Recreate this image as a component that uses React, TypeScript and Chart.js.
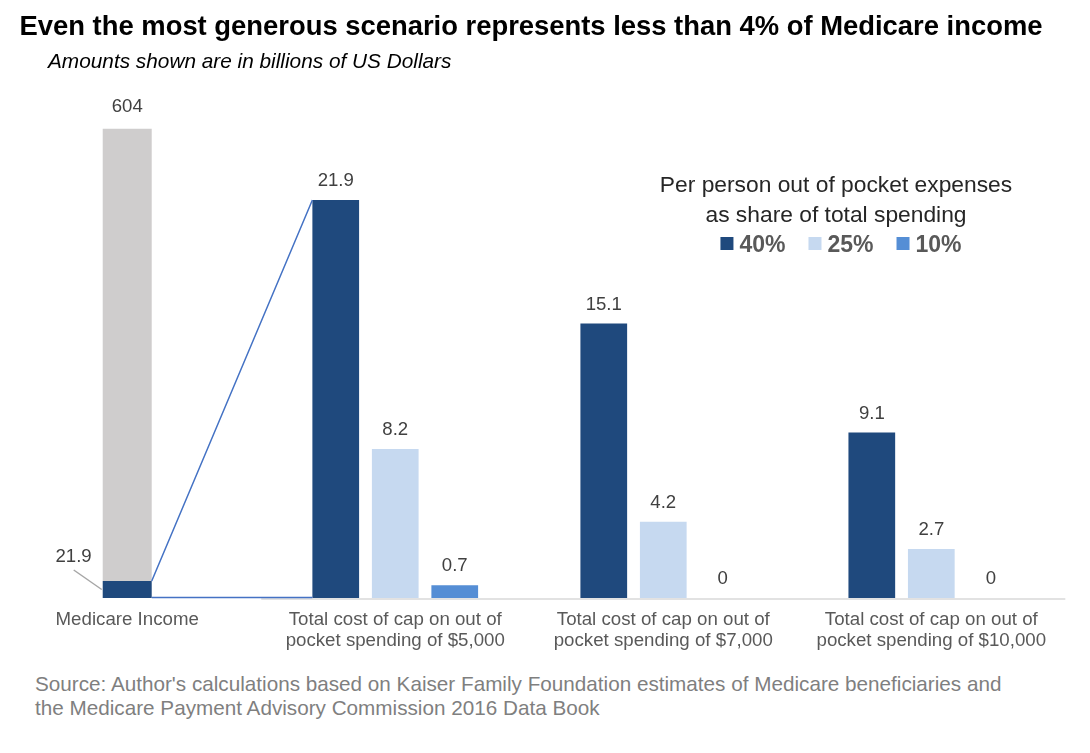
import React, { useEffect, useRef } from "react";
import { Chart, registerables } from "chart.js";

Chart.register(...registerables);

const FONT = '"Liberation Sans", Arial, Helvetica, sans-serif';

// ---- data ----
const categoryLabels: string[][] = [
  ["Medicare Income"],
  ["Total cost of cap on out of", "pocket spending of $5,000"],
  ["Total cost of cap on out of", "pocket spending of $7,000"],
  ["Total cost of cap on out of", "pocket spending of $10,000"],
];
const categoryPositions = [0, 1, 2, 3];

const medicareIncome: (number | null)[] = [604, null, null, null];
const medicareCapShare: (number | null)[] = [21.9, null, null, null];

const seriesNames = ["40%", "25%", "10%"];
const series40: (number | null)[] = [null, 21.9, 15.1, 9.1];
const series25: (number | null)[] = [null, 8.2, 4.2, 2.7];
const series10: (number | null)[] = [null, 0.7, 0, 0];

const legendTitle = ["Per person out of pocket expenses", "as share of total spending"];

// ---- styles / scale ranges ----
const seriesColors = ["#1f497d", "#c6d9f0", "#558ed5"];
const incomeColor = "#cfcdcd";
const connectorColor = "#4472c4";
const leftAxisMax = 641;
const rightAxisMax = 27.4;
const xMin = -0.4;
const xMax = 3.51;

const toPoints = (vals: (number | null)[]) =>
  categoryPositions.map((x, i) => ({ x, y: vals[i] }));

const incomeRest = medicareIncome.map((v, i) =>
  v == null ? null : Math.round((v - (medicareCapShare[i] ?? 0)) * 10) / 10
);

const axisLinePlugin = {
  id: "axisLine",
  beforeDatasetsDraw(chart: any) {
    const { ctx, chartArea } = chart;
    const xs = chart.scales.x;
    const start = xs.getPixelForValue((categoryPositions[0] + categoryPositions[1]) / 2);
    const end = xs.getPixelForValue(categoryPositions[categoryPositions.length - 1] + 0.5);
    ctx.save();
    ctx.strokeStyle = "#d9d9d9";
    ctx.lineWidth = 1.5;
    ctx.beginPath();
    ctx.moveTo(start, chartArea.bottom + 1);
    ctx.lineTo(end, chartArea.bottom + 1);
    ctx.stroke();
    ctx.restore();
  },
};

const decorationsPlugin = {
  id: "decorations",
  afterDatasetsDraw(chart: any) {
    const { ctx } = chart;
    ctx.save();
    const cap = chart.getDatasetMeta(0).data[0] as any;
    const rest = chart.getDatasetMeta(1).data[0] as any;
    const big = chart.getDatasetMeta(2).data[1] as any;

    // connector lines
    ctx.strokeStyle = connectorColor;
    ctx.lineWidth = 1.5;
    const capRight = cap.x + cap.width / 2;
    const bigLeft = big.x - big.width / 2;
    ctx.beginPath();
    ctx.moveTo(capRight, cap.y);
    ctx.lineTo(bigLeft, big.y);
    ctx.moveTo(capRight, cap.base - 0.5);
    ctx.lineTo(bigLeft, big.base - 0.5);
    ctx.stroke();

    // value labels
    ctx.font = `18.6px ${FONT}`;
    ctx.fillStyle = "#404040";
    ctx.textAlign = "center";
    ctx.textBaseline = "alphabetic";
    ctx.fillText(String(medicareIncome[0]), rest.x, rest.y - 17);

    // cap share label with leader line
    const capLeft = cap.x - cap.width / 2;
    const mid = (cap.y + cap.base) / 2;
    ctx.strokeStyle = "#a6a6a6";
    ctx.lineWidth = 1.5;
    ctx.beginPath();
    ctx.moveTo(capLeft - 29, mid - 19.5);
    ctx.lineTo(capLeft - 1, mid);
    ctx.stroke();
    ctx.textAlign = "right";
    ctx.fillText(String(medicareCapShare[0]), capLeft - 11, mid - 27.5);

    ctx.textAlign = "center";
    [2, 3, 4].forEach((di) => {
      const meta = chart.getDatasetMeta(di);
      const ds = chart.data.datasets[di];
      meta.data.forEach((el: any, i: number) => {
        const v = (ds.data[i] as any).y;
        if (v == null) return;
        ctx.fillText(String(v), el.x, el.y - 14);
      });
    });
    ctx.restore();
  },
};

const legendPlugin = {
  id: "customLegend",
  afterDraw(chart: any) {
    const { ctx } = chart;
    const titleCx = 828;
    const itemsCx = 833;
    ctx.save();
    ctx.fillStyle = "#262626";
    ctx.font = `22.8px ${FONT}`;
    ctx.textAlign = "center";
    ctx.textBaseline = "alphabetic";
    legendTitle.forEach((line, i) => ctx.fillText(line, titleCx, 183.5 + i * 30));

    ctx.font = `bold 23px ${FONT}`;
    const items = chart.data.datasets.slice(2).map((ds: any) => ({
      text: ds.label,
      color: ds.backgroundColor,
    }));
    const box = 13;
    const gap = 6;
    const spacing = 23;
    const widths = items.map((it: any) => ctx.measureText(it.text).width);
    const total =
      widths.reduce((a: number, w: number) => a + box + gap + w, 0) + spacing * (items.length - 1);
    let x = itemsCx - total / 2;
    const baseline = 243.5;
    ctx.textAlign = "left";
    items.forEach((it: any, i: number) => {
      ctx.fillStyle = it.color;
      ctx.fillRect(x, baseline - 14.5, box, box);
      ctx.fillStyle = "#595959";
      ctx.fillText(it.text, x + box + gap, baseline);
      x += box + gap + widths[i] + spacing;
    });
    ctx.restore();
  },
};

export default function App() {
  const ref = useRef<HTMLCanvasElement>(null);

  useEffect(() => {
    if (!ref.current) return;
    Chart.defaults.font.family = FONT;
    const common = {
      skipNull: true,
      barPercentage: 0.785,
      categoryPercentage: 0.666,
      borderWidth: 0,
    };
    const chart = new Chart(ref.current, {
      type: "bar",
      data: {
        datasets: [
          {
            ...common,
            label: "Medicare income covered by $5,000 cap",
            data: toPoints(medicareCapShare) as any,
            backgroundColor: seriesColors[0],
            yAxisID: "yL",
            stack: "medicare",
            maxBarThickness: 49,
          },
          {
            ...common,
            label: "Medicare Income",
            data: toPoints(incomeRest) as any,
            backgroundColor: incomeColor,
            yAxisID: "yL",
            stack: "medicare",
            maxBarThickness: 49,
          },
          {
            ...common,
            label: seriesNames[0],
            data: toPoints(series40) as any,
            backgroundColor: seriesColors[0],
            yAxisID: "yR",
            stack: "s40",
          },
          {
            ...common,
            label: seriesNames[1],
            data: toPoints(series25) as any,
            backgroundColor: seriesColors[1],
            yAxisID: "yR",
            stack: "s25",
          },
          {
            ...common,
            label: seriesNames[2],
            data: toPoints(series10) as any,
            backgroundColor: seriesColors[2],
            yAxisID: "yR",
            stack: "s10",
          },
        ],
      },
      options: {
        responsive: false,
        animation: false,
        devicePixelRatio: 1,
        layout: { padding: { top: 92, left: 12, right: 14, bottom: 0 } },
        plugins: {
          legend: { display: false },
          tooltip: { enabled: false },
          title: { display: false },
        },
        scales: {
          x: {
            type: "linear",
            min: xMin,
            max: xMax,
            offset: false,
            grid: { display: false, drawTicks: false, offset: false },
            border: { display: false },
            afterBuildTicks: (scale: any) => {
              scale.ticks = categoryPositions.map((v) => ({ value: v }));
            },
            afterFit: (scale: any) => {
              scale.height = 70;
              scale.paddingLeft = 0;
              scale.paddingRight = 0;
            },
            ticks: {
              autoSkip: false,
              maxRotation: 0,
              minRotation: 0,
              padding: 11,
              color: "#595959",
              font: { size: 18.7, family: FONT, lineHeight: 1.13 },
              callback: (value: any) => {
                const idx = categoryPositions.indexOf(Number(value));
                return idx >= 0 ? categoryLabels[idx] : "";
              },
            },
          },
          yL: {
            type: "linear",
            display: false,
            min: 0,
            max: leftAxisMax,
            stacked: true,
          },
          yR: {
            type: "linear",
            display: false,
            min: 0,
            max: rightAxisMax,
          },
        },
      } as any,
      plugins: [axisLinePlugin, decorationsPlugin, legendPlugin],
    });
    return () => chart.destroy();
  }, []);

  return (
    <div style={{ position: "relative", width: 1074, height: 737, fontFamily: FONT }}>
      <canvas
        ref={ref}
        width={1074}
        height={660}
        style={{ position: "absolute", left: 0, top: 0, width: 1074, height: 660 }}
      />
      <div
        style={{
          position: "absolute",
          left: 0,
          top: 4,
          width: 1046,
          textAlign: "center",
          fontWeight: "bold",
          fontSize: 27.4,
          lineHeight: 1,
          color: "#000",
          whiteSpace: "nowrap",
        }}
      >
        Even the most generous scenario represents less than 4% of Medicare income
      </div>
      <div
        style={{
          position: "absolute",
          left: 40,
          top: 43,
          fontStyle: "italic",
          fontSize: 20.8,
          lineHeight: 1,
          color: "#000",
          whiteSpace: "nowrap",
        }}
      >
        Amounts shown are in billions of US Dollars
      </div>
      <div
        style={{
          position: "absolute",
          left: 27,
          top: 664,
          fontSize: 20.7,
          lineHeight: "24px",
          color: "#7f7f7f",
          whiteSpace: "nowrap",
        }}
      >
        Source: Author's calculations based on Kaiser Family Foundation estimates of Medicare beneficiaries and
        <br />
        the Medicare Payment Advisory Commission 2016 Data Book
      </div>
    </div>
  );
}
